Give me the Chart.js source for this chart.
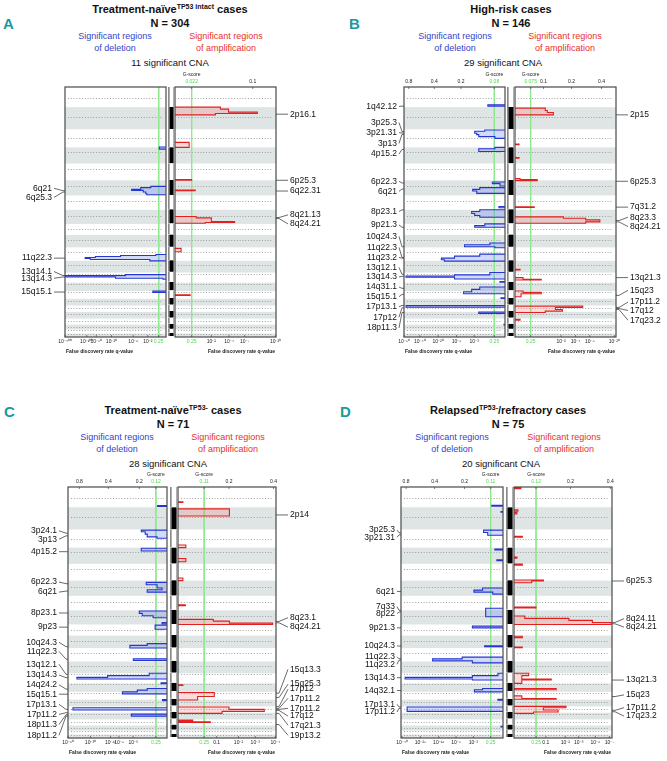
<!DOCTYPE html>
<html>
<head>
<meta charset="utf-8">
<script src="https://cdn.jsdelivr.net/npm/chart.js@4.4.1/dist/chart.umd.min.js"></script>
<style>
  body { margin: 0; background: #fff; }
  #page { position: relative; width: 667px; height: 761px; overflow: hidden; font-family: "Liberation Sans", Arial, sans-serif; }
  .txt { position: absolute; transform: translate(-50%, -50%); white-space: nowrap; line-height: 1; text-align: center; }
  .ttl { font-weight: bold; font-size: 11px; color: #111; }
  .ttl sup { font-size: 7px; vertical-align: 4px; line-height: 0; }
  .del { color: #3344cc; font-size: 9px; }
  .amp { color: #e8302c; font-size: 9px; }
  .cna { font-size: 9.5px; color: #111; }
  .letter { font-weight: bold; font-size: 15px; color: #1a9a9a; font-family: "Liberation Sans Narrow", "Liberation Sans", sans-serif; transform: none; }
  canvas { position: absolute; }
</style>
</head>
<body>
<div id="page"></div>
<script>
// genome axis: chromosome extents in plot units (marker based)
const chrSizes = [60, 66, 54, 48, 50, 45, 43, 42, 33, 37, 40, 35, 30, 25, 23, 20, 19, 20, 18, 15, 12, 10];
const centromeres = [33, 28, 27, 13, 15, 18, 17, 17, 15, 15, 15, 12, 3, 3, 3, 7, 7, 5, 8, 7, 2, 2];

// profiles: [start, end, score] ; score is position on the G-score axis (0 = centre, 1 = outer edge)
const delA = [[179,185,0.066],[296,300,0.15],[300,305,0.25],[305,308,0.34],[308,313,0.225],[313,318,0.2],[318,321,0.19],
  [499,502,0.1],[502,505,0.45],[505,508,0.7],[508,511,0.8],[511,514,0.75],[514,518,0.16],
  [559,562,0.4],[562,566,1.0],[566,570,0.5],[570,573,0.03],[608,612,0.13]];
const ampA = [[60,66,0.45],[66,75,0.53],[75,79,0.815],[79,83,0.4],[165,180,0.14],[276,278,0.165],[307,309,0.2],
  [386,390,0.21],[390,401,0.36],[401,404,0.59],[404,406,0.3],[481,491,0.06],[619,621,0.15]];

const delB = [[53,57,0.17],[128,132,0.2],[132,138,0.3],[138,142,0.28],[142,148,0.26],[148,153,0.1],[180,184,0.1],[184,192,0.26],
  [283,288,0.125],[288,295,0.05],[300,305,0.25],[305,310,0.32],[310,317,0.28],[356,360,0.06],
  [366,371,0.25],[371,377,0.33],[377,383,0.3],[383,388,0.25],[408,413,0.2],[413,418,0.3],
  [465,470,0.15],[470,476,0.4],[476,479,0.1],[498,504,0.25],[504,510,0.5],[510,515,0.63],[515,519,0.6],
  [553,560,0.15],[560,563,0.5],[563,567,0.98],[567,572,0.5],[580,582,0.05],[596,603,0.25],[603,610,0.33],[610,616,0.41],
  [628,630,0.04],[651,656,0.98],[671,675,0.26],[707,709,0.01]];
const ampB = [[63,70,0.3],[70,76,0.32],[76,83,0.38],[170,172,0.04],[210,212,0.04],[273,276,0.05],[276,279,0.22],[357,359,0.19],
  [387,391,0.48],[391,396,0.7],[396,402,0.84],[402,406,0.7],[543,545,0.05],[568,573,0.08],[573,575,0.26],
  [608,612,0.08],[612,616,0.26],[616,625,0.06],[653,657,0.67],[657,663,0.4],[663,668,0.47],[668,672,0.3],[692,695,0.05]];

const delC = [[55,58,0.095],[128,133,0.26],[133,140,0.22],[140,148,0.2],[148,152,0.1],[182,190,0.26],
  [283,290,0.21],[290,300,0.1],[300,305,0.05],[305,312,0.2],[368,375,0.28],[375,382,0.25],[382,388,0.14],
  [402,406,0.05],[410,422,0.12],[465,470,0.2],[470,478,0.375],[510,515,0.34],[553,560,0.18],[560,565,0.6],[565,570,0.91],
  [581,584,0.06],[598,603,0.2],[603,608,0.3],[608,614,0.45],[631,634,0.045],[655,662,0.95],[674,680,0.36]];
const ampC = [[44,46,0.05],[65,86,0.525],[172,180,0.08],[212,222,0.08],[270,278,0.05],[350,352,0.075],
  [393,398,0.36],[398,404,0.525],[404,408,0.965],[587,589,0.05],[610,622,0.37],[622,632,0.2],
  [653,660,0.52],[660,666,0.88],[666,672,0.45],[692,695,0.15],[697,699,0.33]];

const delD = [[54,57,0.11],[73,75,0.02],[128,135,0.19],[135,143,0.15],[184,187,0.08],[216,219,0.06],
  [300,306,0.2],[306,312,0.285],[312,318,0.1],[360,385,0.17],[413,418,0.3],[471,474,0.18],
  [505,510,0.4],[510,516,0.69],[516,522,0.3],[553,560,0.05],[560,565,0.3],[565,570,0.96],[570,573,0.3],
  [598,602,0.2],[602,608,0.28],[630,633,0.05],[653,666,0.94],[710,712,0.02]];
const ampD = [[2,5,0.07],[68,72,0.04],[76,80,0.03],[146,149,0.085],[208,211,0.03],[229,232,0.085],
  [276,279,0.3],[279,284,0.18],[356,359,0.225],[383,390,0.11],[390,396,0.56],[396,402,0.8],[402,408,0.99],
  [443,447,0.085],[475,477,0.085],[553,560,0.15],[560,570,0.08],[570,573,0.38],[573,583,0.08],
  [598,602,0.43],[620,628,0.08],[628,630,0.43],[651,655,0.53],[655,662,0.3],[662,668,0.45],[668,672,0.2]];

// q-value significance thresholds (0.25) per panel: [deletion, amplification]
const thrA = [0.072, 0.165];
const thrB = [0.106, 0.155];
const thrC = [0.112, 0.267];
const thrD = [0.121, 0.225];

// tick labels: [axis position, label]
const gDelA = [];
const qDelA = [[1.0,'10^-400'],[0.785,'10^-100'],[0.69,'10^-80'],[0.54,'10^-20'],[0.325,'10^-6'],[0.18,'10^-2'],[0.072,'0.25']];
const gAmpA = [[0.165,'0.022'],[0.77,'0.1']];
const qAmpA = [[0.165,'0.25'],[0.36,'10^-2'],[0.535,'10^-4'],[0.69,'10^-7'],[0.995,'10^-20']];

const gDelB = [[0.953,'0.8'],[0.70,'0.4'],[0.436,'0.2'],[0.106,'0.08']];
const qDelB = [[1.0,'10^-80'],[0.844,'10^-40'],[0.662,'10^-20'],[0.48,'10^-8'],[0.305,'10^-3'],[0.106,'0.25']];
const gAmpB = [[0.155,'0.075'],[0.283,'0.1'],[0.56,'0.2'],[0.857,'0.4']];
const qAmpB = [[0.155,'0.25'],[0.457,'10^-2'],[0.6,'10^-4'],[0.74,'10^-8'],[0.983,'10^-20']];

const gDelC = [[0.885,'0.8'],[0.593,'0.4'],[0.28,'0.2'],[0.112,'0.12']];
const qDelC = [[1.0,'10^-60'],[0.773,'10^-30'],[0.57,'10^-16'],[0.485,'10^-8'],[0.343,'10^-3'],[0.112,'0.25']];
const gAmpC = [[0.267,'0.11'],[0.52,'0.2'],[0.975,'0.4']];
const qAmpC = [[0.267,'0.25'],[0.394,'0.1'],[0.617,'10^-2'],[0.788,'10^-3'],[0.993,'10^-4']];

const gDelD = [[0.95,'0.8'],[0.67,'0.4'],[0.377,'0.2'],[0.121,'0.11']];
const qDelD = [[0.99,'10^-40'],[0.81,'10^-28'],[0.63,'10^-16'],[0.46,'10^-8'],[0.29,'10^-3'],[0.121,'0.25']];
const gAmpD = [[0.225,'0.12'],[0.577,'0.2'],[0.983,'0.4']];
const qAmpD = [[0.225,'0.25'],[0.325,'0.1'],[0.523,'10^-2'],[0.66,'10^-3'],[0.83,'10^-6'],[0.973,'10^-7']];

// cytoband labels: [name, genome position of the peak, genome position of the text]
const labDelA = [['6q21',309,302],['6q25.3',313,329],['11q22.3',510,510],['13q14.1',562,550],['13q14.3',566,570],['15q15.1',611,611]];
const labAmpA = [['2p16.1',81,81],['6p25.3',278,278],['6q22.31',310,310],['8q21.13',389,381],['8q24.21',392,408]];
const labDelB = [['1q42.12',57,58],['3p25.3',133,106],['3p21.31',137,136],['3p13',141,168],['4p15.2',186,200],
  ['6p22.3',286,281],['6q21',304,311],['8p23.1',366,371],['9p21.3',418,411],['10q24.3',476,445],['11q22.3',508,478],
  ['11q23.2',510,508],['13q12.1',558,538],['13q14.3',564,566],['14q31.1',600,596],['15q15.1',618,625],
  ['17p13.1',651,655],['17p12',658,686],['18p11.3',672,718]];
const labAmpB = [['2p15',83,83],['6p25.3',281,281],['7q31.2',358,358],['8q23.3',398,388],['8q24.21',402,416],
  ['13q21.3',568,568],['15q23',621,606],['17p11.2',657,641],['17q12',660,666],['17q23.2',663,695]];
const labDelC = [['3p24.1',137,130],['3p13',145,155],['4p15.2',192,192],['6p22.3',287,282],['6q21',309,312],
  ['8p23.1',374,374],['9p23',416,416],['10q24.3',474,461],['11q22.3',511,488],['13q12.1',556,526],['13q14.3',566,558],
  ['14q24.2',600,587],['15q15.1',615,615],['17p13.1',660,645],['17p11.2',670,675],['18p11.3',676,705],['18p11.2',680,737]];
const labAmpC = [['2p14',83,83],['8q23.1',399,388],['8q24.21',403,416],['15q13.3',612,541],['15q25.3',625,585],
  ['17p12',652,600],['17p11.2',657,627],['17p11.2',660,657],['17q12',663,680],['17q21.3',672,707],['19p13.2',705,737]];
const labDelD = [['3p25.3',136,128],['3p21.31',142,149],['6q21',310,310],['7q33',366,355],['8p22',371,376],
  ['9p21.3',418,418],['10q24.3',472,472],['11q22.3',510,504],['11q23.2',514,526],['13q14.3',566,566],
  ['14q32.1',604,604],['17p13.1',653,645],['17p11.2',657,668]];
const labAmpD = [['6p25.3',279,279],['8q24.11',402,391],['8q24.21',406,416],['13q21.3',573,573],['15q23',622,617],
  ['17p11.2',663,655],['17q23.2',667,680]];

const chrStart = [];
let genomeLen = 0;
chrSizes.forEach(s => { chrStart.push(genomeLen); genomeLen += s; });

const SUP = { '-': '\u207B', '0': '\u2070', '1': '\u00B9', '2': '\u00B2', '3': '\u00B3', '4': '\u2074',
  '5': '\u2075', '6': '\u2076', '7': '\u2077', '8': '\u2078', '9': '\u2079' };
function fmt(s) {
  const p = s.split('^');
  return p.length > 1 ? p[0] + [...p[1]].map(c => SUP[c]).join('') : s;
}

const page = document.getElementById('page');

function addText(cls, html, x, y) {
  const d = document.createElement('div');
  d.className = 'txt ' + cls;
  d.innerHTML = html;
  d.style.left = x + 'px';
  d.style.top = y + 'px';
  page.appendChild(d);
}

function addCanvas(x, y, w, h) {
  const c = document.createElement('canvas');
  c.width = Math.round(w);
  c.height = Math.round(h);
  c.style.left = x + 'px';
  c.style.top = y + 'px';
  c.style.width = Math.round(w) + 'px';
  c.style.height = Math.round(h) + 'px';
  page.appendChild(c);
  return c;
}

function profilePoints(segs) {
  const pts = [];
  let prevEnd = null;
  segs.forEach(([s, e, v]) => {
    if (prevEnd === null || s !== prevEnd) {
      if (prevEnd !== null) {
        pts.push({ x: 0, y: prevEnd });
        pts.push({ x: null, y: (prevEnd + s) / 2 });
      }
      pts.push({ x: 0, y: s });
    }
    pts.push({ x: v, y: s }, { x: v, y: e });
    prevEnd = e;
  });
  if (prevEnd !== null) pts.push({ x: 0, y: prevEnd });
  return pts;
}

const genomePlugin = {
  id: 'genome',
  beforeDatasetsDraw(chart) {
    const { ctx, chartArea: a, scales: { y } } = chart;
    ctx.save();
    ctx.fillStyle = '#dfe5e5';
    chrSizes.forEach((s, i) => {
      if (i % 2 === 1) {
        const y0 = y.getPixelForValue(chrStart[i]);
        const y1 = y.getPixelForValue(chrStart[i] + s);
        ctx.fillRect(a.left, y0, a.right - a.left, y1 - y0);
      }
    });
    ctx.strokeStyle = '#8c8c8c';
    ctx.lineWidth = 0.8;
    ctx.setLineDash([1, 1.8]);
    centromeres.forEach((c, i) => {
      const yy = Math.round(y.getPixelForValue(chrStart[i] + c)) + 0.5;
      ctx.beginPath();
      ctx.moveTo(a.left + 3, yy);
      ctx.lineTo(a.right - 3, yy);
      ctx.stroke();
    });
    ctx.restore();
  },
  afterDraw(chart, args, o) {
    const { ctx, chartArea: a, scales } = chart;
    ctx.save();
    ctx.setLineDash([]);
    ctx.strokeStyle = '#4a4a4a';
    ctx.lineWidth = 1.2;
    ctx.strokeRect(a.left, a.top, a.right - a.left, a.bottom - a.top);
    // small inward tick marks at the labelled positions
    ctx.lineWidth = 0.7;
    ctx.beginPath();
    scales.x.ticks.forEach(t => {
      const px = scales.x.getPixelForValue(t.value);
      ctx.moveTo(px, a.bottom);
      ctx.lineTo(px, a.bottom - 2);
    });
    scales.x2.ticks.forEach(t => {
      const px = scales.x2.getPixelForValue(t.value);
      ctx.moveTo(px, a.top);
      ctx.lineTo(px, a.top + 2);
    });
    ctx.stroke();

    ctx.fillStyle = '#222';
    ctx.textBaseline = 'middle';
    if (o.gscore) {
      ctx.font = '5px "Liberation Sans"';
      ctx.textAlign = 'center';
      ctx.fillText('G-score', scales.x.getPixelForValue(o.thr), a.top - 12);
    }
    ctx.font = 'bold 5px "Liberation Sans"';
    ctx.textAlign = o.del ? 'left' : 'right';
    ctx.fillText('False discovery rate q-value', o.del ? a.left + 1 : a.right - 1, a.bottom + 14.5);

    ctx.font = '8.5px "Liberation Sans"';
    ctx.fillStyle = '#111';
    ctx.strokeStyle = '#444';
    ctx.lineWidth = 0.8;
    o.labels.forEach(([t, at, ty]) => {
      const py = scales.y.getPixelForValue(at);
      const tpy = scales.y.getPixelForValue(ty);
      ctx.beginPath();
      if (o.del) {
        const tx = a.left - o.gap;
        ctx.moveTo(tx + 2, tpy);
        ctx.lineTo(a.left - 2, py);
        ctx.lineTo(a.left, py);
        ctx.stroke();
        ctx.textAlign = 'right';
        ctx.fillText(t, tx, tpy);
      } else {
        const tx = a.right + 14;
        ctx.moveTo(a.right, py);
        ctx.lineTo(a.right + 3, py);
        ctx.lineTo(tx - 2, tpy);
        ctx.stroke();
        ctx.textAlign = 'left';
        ctx.fillText(t, tx, tpy);
      }
    });
    ctx.restore();
  }
};

function xAxis(position, list, thr, del) {
  const bottom = position === 'bottom';
  return {
    type: 'linear', position, axis: 'x', min: 0, max: 1, reverse: del,
    grid: { display: false, drawTicks: false, tickLength: 0 }, border: { display: false },
    afterBuildTicks: s => { s.ticks = list.map(t => ({ value: t[0] })); },
    afterFit: s => { s.height = bottom ? 19 : 17; },
    ticks: {
      autoSkip: false, maxRotation: 0, minRotation: 0, padding: 2,
      font: { size: 5, family: 'Liberation Sans' },
      color: c => (c.tick && Math.abs(c.tick.value - thr) < 1e-6) ? '#4fd84f' : '#222',
      callback: (v, i) => list[i] ? fmt(list[i][1]) : ''
    },
    title: { display: false }
  };
}

function sideChart(p, side) {
  const del = side === 'del';
  const box = p[side];
  const w = box.r - box.l;
  const padL = del ? 62 : 1;
  const padR = del ? 1 : 52;
  const cv = addCanvas(box.l - padL, p.top - 17, w + padL + padR, p.bottom - p.top + 17 + 20);
  const thr = del ? p.thr[0] : p.thr[1];
  const gt = del ? p.gDel : p.gAmp;
  const qt = del ? p.qDel : p.qAmp;
  new Chart(cv, {
    type: 'line',
    data: {
      datasets: [
        {
          data: profilePoints(del ? p.delSegs : p.ampSegs),
          borderColor: del ? '#2236d4' : '#e41f1f',
          backgroundColor: del ? 'rgba(110,128,235,0.30)' : 'rgba(244,135,135,0.30)',
          borderWidth: 1.1, pointRadius: 0, fill: 'origin', spanGaps: false, order: 1
        },
        {
          data: [{ x: thr, y: 0 }, { x: thr, y: genomeLen }],
          borderColor: '#8ee88e', borderWidth: 1, pointRadius: 0, fill: false, order: 2
        }
      ]
    },
    options: {
      indexAxis: 'y',
      responsive: false, animation: false, devicePixelRatio: 1,
      layout: { padding: { left: padL, right: padR, top: 0, bottom: 0 } },
      scales: {
        x: xAxis('bottom', qt, thr, del),
        x2: xAxis('top', gt, thr, del),
        y: { type: 'linear', display: false, min: 0, max: genomeLen, reverse: true }
      },
      plugins: {
        legend: { display: false }, tooltip: { enabled: false },
        genome: { del, thr, gap: p.gap, labels: del ? p.labDel : p.labAmp, gscore: gt.length > 0 }
      }
    },
    plugins: [genomePlugin]
  });
}

function ideogram(p) {
  const cv = addCanvas(p.ideo.l, p.top, p.ideo.r - p.ideo.l, p.bottom - p.top);
  new Chart(cv, {
    type: 'bar',
    data: {
      labels: ['chr'],
      datasets: chrSizes.map((s, i) => ({
        data: [[chrStart[i], chrStart[i] + s]],
        backgroundColor: i % 2 ? '#000' : '#fff',
        borderColor: '#8a8a8a',
        borderWidth: { left: 2, right: 1, top: 0, bottom: 0 },
        borderSkipped: false, grouped: false, barPercentage: 1, categoryPercentage: 1
      }))
    },
    options: {
      responsive: false, animation: false, devicePixelRatio: 1,
      layout: { padding: 0 },
      scales: {
        x: { display: false },
        y: { display: false, min: 0, max: genomeLen, reverse: true }
      },
      plugins: { legend: { display: false }, tooltip: { enabled: false } }
    }
  });
}

const panels = [
  { letter: 'A', lx: 3, ly: 16, title: 'Treatment-naïve<sup>TP53 intact</sup> cases', n: 'N = 304', cna: '11 significant CNA',
    tx: 170, ty: 9, dx: 115, ax: 226, cx: 170,
    del: { l: 65, r: 166 }, ideo: { l: 167.5, r: 173.5 }, amp: { l: 175, r: 276 }, top: 87, bottom: 335.5, gap: 13,
    delSegs: delA, ampSegs: ampA, thr: thrA, gDel: gDelA, qDel: qDelA, gAmp: gAmpA, qAmp: qAmpA, labDel: labDelA, labAmp: labAmpA },
  { letter: 'B', lx: 349, ly: 16, title: 'High-risk cases', n: 'N = 146', cna: '29 significant CNA',
    tx: 511, ty: 9, dx: 455, ax: 565, cx: 503,
    del: { l: 404, r: 505 }, ideo: { l: 506.5, r: 513.5 }, amp: { l: 515, r: 616 }, top: 87, bottom: 335.5, gap: 7,
    delSegs: delB, ampSegs: ampB, thr: thrB, gDel: gDelB, qDel: qDelB, gAmp: gAmpB, qAmp: qAmpB, labDel: labDelB, labAmp: labAmpB },
  { letter: 'C', lx: 4, ly: 404, title: 'Treatment-naïve<sup>TP53-</sup> cases', n: 'N = 71', cna: '28 significant CNA',
    tx: 173, ty: 410, dx: 117, ax: 228, cx: 168,
    del: { l: 68, r: 167 }, ideo: { l: 169.5, r: 176 }, amp: { l: 178, r: 276 }, top: 487, bottom: 737, gap: 11,
    delSegs: delC, ampSegs: ampC, thr: thrC, gDel: gDelC, qDel: qDelC, gAmp: gAmpC, qAmp: qAmpC, labDel: labDelC, labAmp: labAmpC },
  { letter: 'D', lx: 340, ly: 404, title: 'Relapsed<sup>TP53-</sup>/refractory cases', n: 'N = 75', cna: '20 significant CNA',
    tx: 508, ty: 410, dx: 452, ax: 564, cx: 501,
    del: { l: 401, r: 503 }, ideo: { l: 505.5, r: 512 }, amp: { l: 514, r: 612 }, top: 487, bottom: 737, gap: 6,
    delSegs: delD, ampSegs: ampD, thr: thrD, gDel: gDelD, qDel: qDelD, gAmp: gAmpD, qAmp: qAmpD, labDel: labDelD, labAmp: labAmpD }
];

panels.forEach(p => {
  const d = document.createElement('div');
  d.className = 'txt letter';
  d.textContent = p.letter;
  d.style.left = p.lx + 'px';
  d.style.top = p.ly + 'px';
  page.appendChild(d);
  addText('ttl', p.title, p.tx, p.ty);
  addText('ttl', p.n, p.tx, p.ty + 13.5);
  addText('del', 'Significant regions', p.dx, p.ty + 27);
  addText('del', 'of deletion', p.dx, p.ty + 38.5);
  addText('amp', 'Significant regions', p.ax, p.ty + 27);
  addText('amp', 'of amplification', p.ax, p.ty + 38.5);
  addText('cna', p.cna, p.cx, p.ty + 53.5);
  sideChart(p, 'del');
  ideogram(p);
  sideChart(p, 'amp');
});
</script>
</body>
</html>
